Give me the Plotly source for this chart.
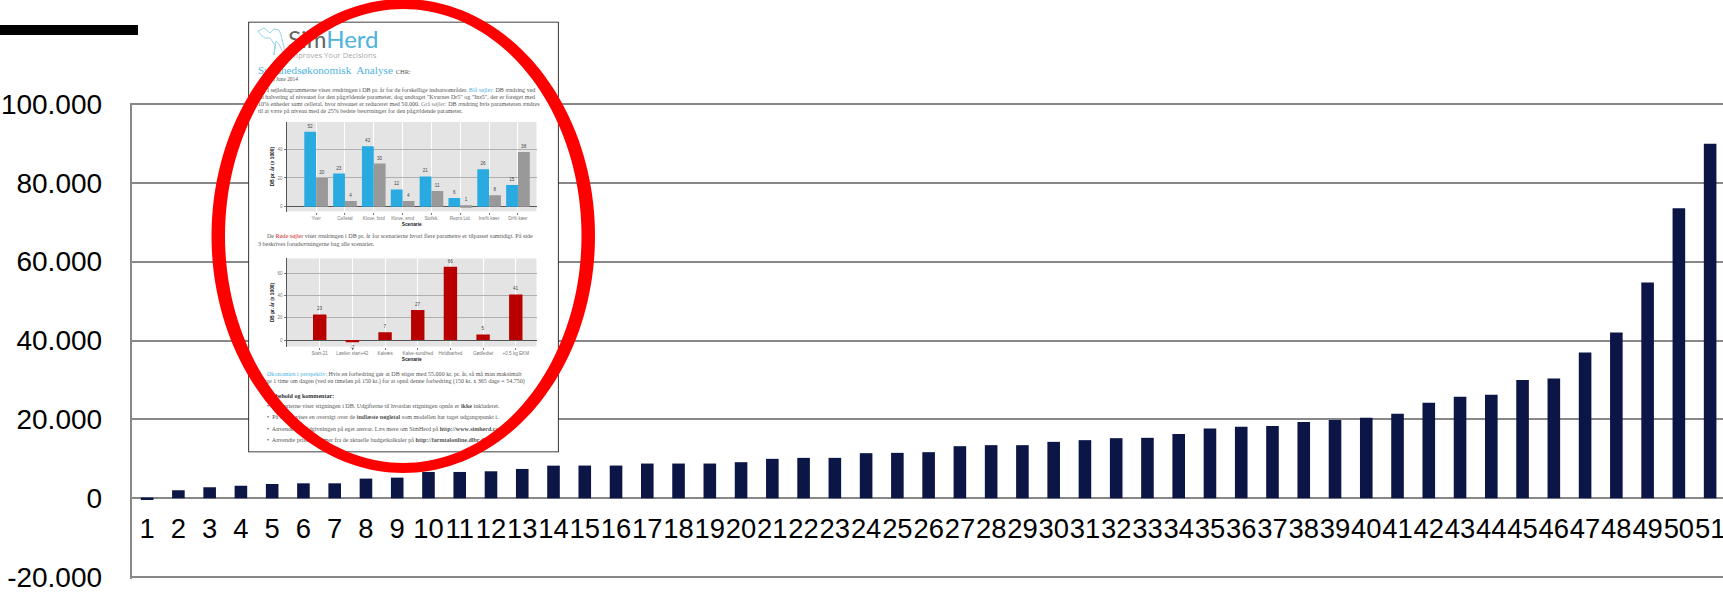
import numpy as np
import plotly.graph_objects as go

W, H = 1723, 595

# ---- main chart data ----
categories = list(range(1, 52))
values = [-420, 2030, 2790, 3210, 3630, 3800, 3800, 4990, 5240, 6680, 6680, 6850, 7440, 8280, 8300,
          8300, 8810, 8810, 8810, 9150, 10000, 10250, 10250, 11440, 11520, 11690, 13210, 13470, 13470,
          14310, 14740, 15240, 15330, 16290, 17720, 18150, 18310, 19330, 19830, 20420, 21440, 24220,
          25740, 26250, 29960, 30380, 36970, 42030, 54690, 73510, 89900]
y_ticks = [-20000, 0, 20000, 40000, 60000, 80000, 100000]
y_tick_labels = ["-20.000", "0", "20.000", "40.000", "60.000", "80.000", "100.000"]

# ---- inset page, upper chart ----
inset1_categories = ["Yver", "Celletal", "Klove, ford", "Klove, smd", "Stofsk.", "Repro Lid.", "Ins% køer", "Dr% køer"]
inset1_blue = [52, 23, 42, 12, 21, 6, 26, 15]
inset1_grey = [20, 4, 30, 4, 11, 1, 8, 38]

# ---- inset page, lower chart ----
inset2_categories = ["Start-21", "Løsfen start+42", "Kalvæs", "Kalve-sundhed", "Holdbarhed", "Gødfedtet", "+0.5 kg EKM"]
inset2_red = [23, -2, 7, 27, 66, 5, 41]

# ---- inset page, text ----
BLUE = "#4fb3de"
BODY = "#555555"
page_lines = [
    (288, 42, "<span style='color:#666'>Sim</span>Herd", 24, BLUE, "Lato"),
    (289, 56.5, "Improves Your Decisions", 7.6, "#aaaaaa", "Open Sans"),
    (258, 71.5, f"<span style='color:{BLUE}'>Sundhedsøkonomisk  Analyse</span> <span style='font-size:6.5px'>CHR:</span>", 11.2, BODY, "Liberation Serif"),
    (265, 80, "16th June 2014", 5.4, BODY, "Liberation Serif"),
    (267, 90.7, f"I søjlediagrammerne vises ændringen i DB pr. år for de forskellige indsatsområder. <span style='color:{BLUE}'>Blå søjler:</span> DB ændring ved", 6.05, BODY, "Liberation Serif"),
    (258, 97.5, "en halvering af niveauet for den pågældende parameter, dog undtaget \"Kvarnes Dr5\" og \"Ins5\", der er forøget med", 6.05, BODY, "Liberation Serif"),
    (258, 104.3, "10% enheder samt celletal, hvor niveauet er reduceret med 50.000. <span style='color:#888'>Grå søjler:</span> DB ændring hvis parameteren ændres", 6.05, BODY, "Liberation Serif"),
    (258, 111.7, "til at være på niveau med de 25% bedste besætninger for den pågældende parameter.", 6.05, BODY, "Liberation Serif"),
    (267, 236.7, "De <span style='color:#c8242b'>Røde søjler</span> viser ændringen i DB pr. år for scenarierne hvori flere parametre er tilpasset samtidigt. På side", 6.05, BODY, "Liberation Serif"),
    (258, 244, "3 beskrives forudsætningerne bag alle scenarier.", 6.05, BODY, "Liberation Serif"),
    (267, 374.3, f"<span style='color:{BLUE}'>Økonomien i perspektiv:</span> Hvis en forbedring gør at DB stiger med 55.000 kr. pr. år, så må man maksimalt", 6.05, BODY, "Liberation Serif"),
    (258, 381.3, "bruge 1 time om dagen (ved en timeløn på 150 kr.) for at opnå denne forbedring (150 kr. x 365 dage = 54.750)", 6.05, BODY, "Liberation Serif"),
    (266, 396, "<b>Forbehold og kommentar:</b>", 6.05, "#333", "Liberation Serif"),
    (267, 406.7, "•  Scenarierne viser stigningen i DB. Udgifterne til hvordan stigningen opnås er <b>ikke</b> inkluderet.", 6.05, BODY, "Liberation Serif"),
    (267, 417.7, "•  På side 4 vises en oversigt over de <b>indlæste nøgletal</b> som modellen har taget udgangspunkt i.", 6.05, BODY, "Liberation Serif"),
    (267, 429, "•  Anvendes til rådgivningen på eget ansvar. Læs mere om SimHerd på <b>http://www.simherd.com</b>", 6.05, BODY, "Liberation Serif"),
    (267, 440, "•  Anvendte priser stammer fra de aktuelle budgetkalkuler på <b>http://farmtalonline.dlbr.dk</b>", 6.05, BODY, "Liberation Serif"),
]
logo_x = [258, 264, 270, 274, 279, 281, 285, 283, 279, 276, 274, 275, 270, 265, 262, 258]
logo_y = [31, 28, 33, 29, 30, 35, 52, 53, 44, 41, 55, 45, 38, 38, 36, 31]


def px(x):
    return x / W


def py(y):
    return 1 - y / H


GRID = "#888888"
fig = go.Figure()

# main bars
fig.add_trace(go.Bar(x=categories, y=values, width=0.403, marker=dict(color="#0b1647", line=dict(width=0)),
                     xaxis="x", yaxis="y", hoverinfo="skip"))

# inset page text and logo
fig.add_trace(go.Scatter(x=logo_x, y=logo_y, mode="lines", line=dict(color="#8fd0ec", width=0.9),
                         xaxis="x2", yaxis="y2", hoverinfo="skip", cliponaxis=False))
fig.add_trace(go.Scatter(x=[l[0] for l in page_lines], y=[l[1] for l in page_lines],
                         text=[l[2] for l in page_lines], mode="text", textposition="middle right",
                         textfont=dict(size=[l[3] for l in page_lines], color=[l[4] for l in page_lines],
                                       family=[l[5] for l in page_lines]),
                         xaxis="x2", yaxis="y2", hoverinfo="skip", cliponaxis=False))

# inset charts
label_font = dict(size=4.6, color="#444", family="Liberation Sans")
fig.add_trace(go.Bar(x=list(range(1, 9)), y=inset1_blue, offset=-0.41, width=0.41, marker=dict(color="#29abe2", line=dict(width=0)),
                     text=inset1_blue, textposition="outside", textfont=label_font, cliponaxis=False,
                     xaxis="x3", yaxis="y3", hoverinfo="skip"))
fig.add_trace(go.Bar(x=list(range(1, 9)), y=inset1_grey, offset=0, width=0.41, marker=dict(color="#999999", line=dict(width=0)),
                     text=inset1_grey, textposition="outside", textfont=label_font, cliponaxis=False,
                     xaxis="x3", yaxis="y3", hoverinfo="skip"))
fig.add_trace(go.Bar(x=list(range(1, 8)), y=inset2_red, width=0.41, marker=dict(color="#b80000", line=dict(width=0)),
                     text=inset2_red, textposition="outside", textfont=label_font, cliponaxis=False,
                     xaxis="x4", yaxis="y4", hoverinfo="skip"))

tick_font = dict(size=28, color="black", family="Liberation Sans")
cat_font = dict(size=27.4, color="black", family="Liberation Sans")
mini_font = dict(size=4.6, color="#777", family="Liberation Sans")
mini_title = dict(size=4.8, color="#222", family="Liberation Sans")


def mini_x(dom, rng, labels):
    return dict(domain=dom, range=rng, tickvals=list(range(1, len(labels) + 1)), ticktext=labels, tickangle=0,
                tickfont=mini_font, showgrid=True, gridcolor="white", gridwidth=0.8, zeroline=False,
                ticks="outside", ticklen=2, tickcolor="#777", tickwidth=0.5, showline=False,
                title=dict(text="<b>Scenarie</b>", font=mini_title, standoff=2))


def mini_y(dom, rng, vals, anchor):
    return dict(domain=dom, range=rng, tickvals=vals, tickfont=mini_font, showgrid=True, gridcolor="#b0b0b0",
                gridwidth=0.8, zeroline=True, zerolinecolor="#555", zerolinewidth=1.4, showline=True, linecolor="#555",
                linewidth=1.4, ticks="outside", ticklen=2, tickcolor="#777", tickwidth=0.5,
                title=dict(text="<b>DB pr. år (x 1000)</b>", font=mini_title, standoff=2), anchor=anchor)


Y_PAD = 1.3  # px beyond the end gridlines, so plotly keeps them
UNITS_PER_PX = 20000 / 78.9
fig.update_layout(
    width=W, height=H, margin=dict(l=0, r=0, t=0, b=0, autoexpand=False), autosize=False, showlegend=False,
    paper_bgcolor="white", plot_bgcolor="rgba(0,0,0,0)", barmode="overlay",
    xaxis=dict(domain=[px(131.5), 1], range=[0.5, 0.5 + (W - 131.5) / 31.26], tickvals=categories,
               ticktext=[str(c) for c in categories], tickangle=0, tickfont=cat_font, showgrid=False,
               zeroline=False, showline=False, anchor="free", position=py(498.2),
               ticks="outside", ticklen=6, tickcolor="rgba(0,0,0,0)", ticklabeloverflow="allow"),
    yaxis=dict(domain=[py(577.2 + Y_PAD), py(103.8 - Y_PAD)],
               range=[-20000 - Y_PAD * UNITS_PER_PX, 100000 + Y_PAD * UNITS_PER_PX],
               tickvals=y_ticks, ticktext=y_tick_labels,
               tickfont=tick_font, showgrid=True, gridcolor=GRID, gridwidth=1.6, zeroline=False, showline=True,
               linecolor=GRID, linewidth=1.6, ticks="outside", ticklen=22, tickcolor="rgba(0,0,0,0)", anchor="x"),
    xaxis2=dict(domain=[px(248.3), px(558.7)], range=[248.3, 558.7], visible=False, anchor="y2"),
    yaxis2=dict(domain=[py(452.3), py(21.7)], range=[452.3, 21.7], visible=False, anchor="x2"),
    xaxis3=mini_x([px(286.7), px(536.7)], [-0.02, 8.65], inset1_categories),
    yaxis3=mini_y([py(211.5), py(121.7)], [-3.3, 59], [0, 20, 40], "x3"),
    xaxis4=mini_x([px(286.7), px(536.7)], [-0.01, 7.64], inset2_categories),
    yaxis4=mini_y([py(346.7), py(258.3)], [-6, 73.5], [0, 20, 40, 60], "x4"),
)
fig.update_layout(xaxis3_anchor="y3", xaxis4_anchor="y4")

# ring: outer and inner outlines of the red ellipse
t = np.linspace(0, 2 * np.pi, 181)


def ring(x0, x1, y0, y1, reverse=False):
    tt = t[::-1] if reverse else t
    xs = (x0 + x1) / 2 + (x1 - x0) / 2 * np.cos(tt)
    ys = (y0 + y1) / 2 + (y1 - y0) / 2 * np.sin(tt)
    return "M" + "L".join(f"{px(a):.5f},{py(b):.5f}" for a, b in zip(xs, ys)) + "Z"


shapes = [
    dict(type="rect", xref="x2", yref="y2", x0=248.3, x1=558.7, y0=21.7, y1=452.3, layer="below",
         fillcolor="white", line=dict(color="#000", width=1.6)),
    dict(type="rect", xref="x3", yref="y3", x0=-0.02, x1=8.65, y0=-3.3, y1=59, layer="below",
         fillcolor="#e4e4e4", line=dict(width=0)),
    dict(type="rect", xref="x4", yref="y4", x0=-0.01, x1=7.64, y0=-6, y1=73.5, layer="below",
         fillcolor="#e4e4e4", line=dict(width=0)),
    dict(type="rect", xref="paper", yref="paper", x0=px(0), x1=px(138), y0=py(35), y1=py(25), layer="above",
         fillcolor="black", line=dict(width=0)),
    dict(type="path", xref="paper", yref="paper", layer="above", path=ring(211.5, 595, -1, 473) + ring(225, 581.5, 9, 463, True),
         fillcolor="#ff0000", line=dict(width=0)),
]
fig.update_layout(shapes=shapes)

fig.write_html("out.html", config={"displayModeBar": False},
               post_script="document.body.style.margin='0';document.documentElement.style.overflow='hidden';window.dispatchEvent(new Event('resize'));")
